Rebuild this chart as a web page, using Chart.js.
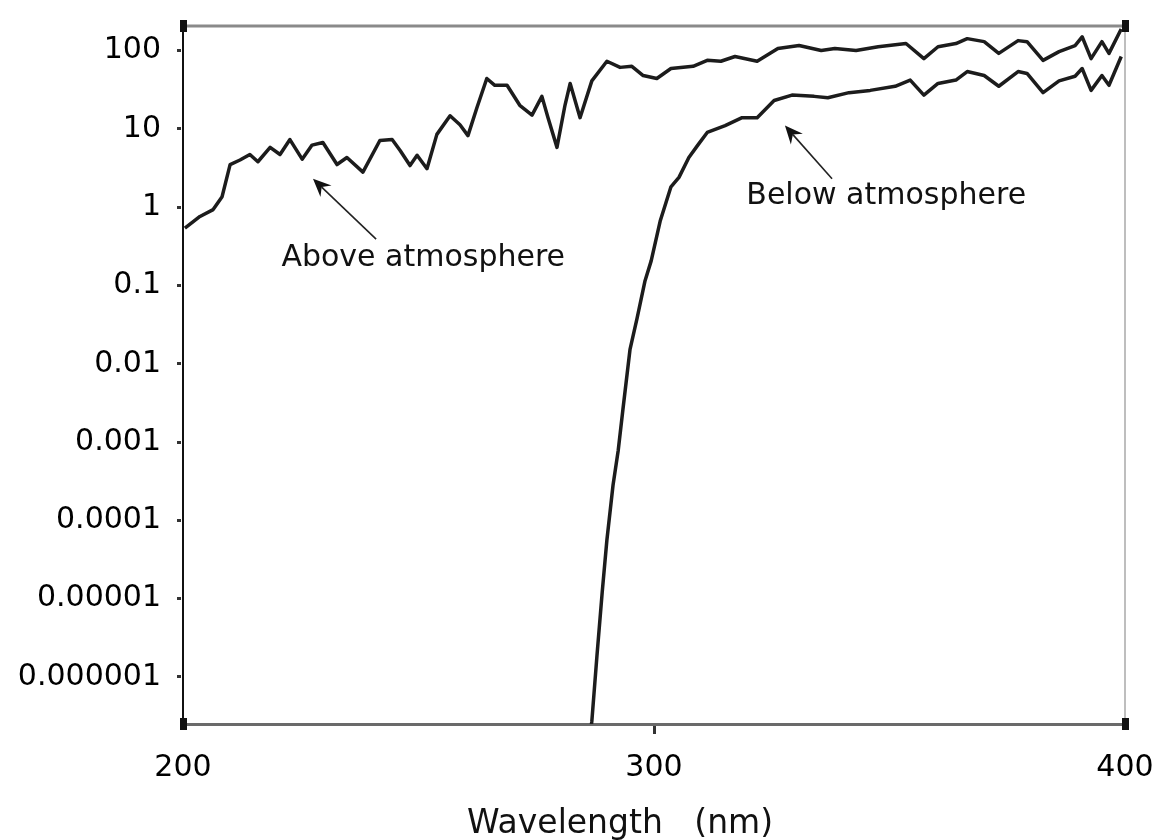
<!DOCTYPE html>
<html>
<head>
<meta charset="utf-8">
<script src="https://cdn.jsdelivr.net/npm/chart.js@4"></script>
<style>
  html, body { margin: 0; padding: 0; background: #fff; }
  #wrap { width: 1161px; height: 840px; }
</style>
</head>
<body>
<div id="wrap"><canvas id="chart"></canvas></div>
<script>
// Espectro solar UV: arriba y abajo de la atmósfera
const aboveWl = [200.4, 203.6, 206.4, 208.3, 210, 212.1, 214.2, 215.9, 218.5, 220.6, 222.7, 225.3, 227.4, 229.7, 232.7, 234.8, 238.2, 241.8, 244.4, 246.1, 248.2, 249.7, 251.8, 253.9, 256.7, 258.8, 260.5, 262.4, 264.5, 266.2, 268.8, 271.5, 274.1, 276.2, 277.5, 279.4, 281.1, 282.2, 284.3, 286.8, 290, 292.8, 295.3, 297.7, 300.6, 303.6, 308.3, 311.3, 314.2, 317.2, 321.9, 326.3, 330.8, 335.5, 338.4, 342.9, 347.6, 353.5, 357.3, 360.3, 364.1, 366.5, 370.1, 373.2, 377.3, 379.2, 382.6, 386, 389.4, 390.9, 392.8, 395.1, 396.6, 399.2];
const aboveVal = [0.54, 0.76, 0.93, 1.36, 3.5, 4.0, 4.7, 3.8, 5.8, 4.7, 7.3, 4.1, 6.2, 6.7, 3.5, 4.3, 2.8, 7.1, 7.3, 5.3, 3.4, 4.6, 3.1, 8.5, 14.7, 11.3, 8.2, 18.6, 44, 36, 36, 20, 15, 26, 13.9, 5.8, 20, 38, 13.9, 41, 73, 61, 63, 48, 44, 59, 63, 75, 73, 84, 73, 106, 116, 100, 106, 100, 112, 123, 79, 112, 123, 142, 130, 92, 134, 130, 75, 97, 116, 150, 79, 130, 92, 189];

const belowWl = [286.4, 286.8, 287.9, 289, 290, 291.3, 292.4, 293.4, 294.9, 296.4, 298.1, 299.4, 301.3, 303.6, 305.3, 307.4, 309.3, 311.3, 315.1, 318.7, 321.9, 325.5, 329.3, 334, 336.9, 341.4, 345.9, 351.2, 354.4, 357.3, 360.3, 364.1, 366.5, 370.1, 373.2, 377.3, 379.2, 382.6, 386, 389.4, 390.9, 392.8, 395.1, 396.6, 399.2];
const belowVal = [1.8e-7, 2.7e-7, 1.9e-6, 1.2e-5, 5.6e-5, 2.8e-4, 7.8e-4, 2.6e-3, 0.0151, 0.038, 0.115, 0.206, 0.66, 1.82, 2.4, 4.3, 6.2, 9.0, 11, 13.9, 13.9, 23, 27, 26, 25, 29, 31, 35, 42, 27, 38, 42, 54, 48, 35, 54, 51, 29, 41, 47, 59, 31, 48, 36, 84];

const yTicks = [0.000001, 0.00001, 0.0001, 0.001, 0.01, 0.1, 1, 10, 100];
const xTicks = [200, 300, 400];

// Etiquetas con flecha (en coordenadas de datos)
const noteText = ["Above atmosphere", "Below atmosphere"];
const noteAt = [[251, 0.225], [349.3, 1.36]];
const arrowFrom = [[241, 0.39], [337.8, 2.3]];
const arrowTo = [[227.6, 2.3], [327.8, 11]];

const FONT = "'DejaVu Sans', sans-serif";

const toPoints = (xs, ys) => xs.map((x, i) => ({ x: x, y: ys[i] }));

const framePlugin = {
    id: "frame",
    afterDraw(chart) {
        const { ctx, chartArea: a, scales } = chart;
        const sx = scales.x, sy = scales.y;
        ctx.save();

        // borde superior y derecho
        ctx.strokeStyle = "#8a8a8a";
        ctx.lineWidth = 3;
        ctx.beginPath();
        ctx.moveTo(a.left, a.top);
        ctx.lineTo(a.right, a.top);
        ctx.stroke();
        ctx.strokeStyle = "#a8a8a8";
        ctx.lineWidth = 1.5;
        ctx.beginPath();
        ctx.moveTo(a.right, a.top);
        ctx.lineTo(a.right, a.bottom);
        ctx.stroke();

        // marcas en las esquinas
        ctx.fillStyle = "#111";
        [[a.left, a.top], [a.left, a.bottom], [a.right, a.bottom], [a.right, a.top]].forEach(([cx, cy]) => {
            ctx.fillRect(cx - 3, cy - 6, 7, 12);
        });

        // textos y flechas
        ctx.fillStyle = "#111";
        ctx.font = "30px " + FONT;
        ctx.textAlign = "center";
        ctx.textBaseline = "middle";
        noteText.forEach((t, i) => {
            ctx.fillText(t, sx.getPixelForValue(noteAt[i][0]), sy.getPixelForValue(noteAt[i][1]));

            const x0 = sx.getPixelForValue(arrowFrom[i][0]), y0 = sy.getPixelForValue(arrowFrom[i][1]);
            const x1 = sx.getPixelForValue(arrowTo[i][0]), y1 = sy.getPixelForValue(arrowTo[i][1]);
            const ang = Math.atan2(y1 - y0, x1 - x0);
            const c = Math.cos(ang), s = Math.sin(ang);
            const len = 18, wid = 8, notch = 12;
            ctx.strokeStyle = "#222";
            ctx.lineWidth = 1.6;
            ctx.beginPath();
            ctx.moveTo(x0, y0);
            ctx.lineTo(x1 - c * notch, y1 - s * notch);
            ctx.stroke();
            ctx.beginPath();
            ctx.moveTo(x1, y1);
            ctx.lineTo(x1 - c * len - s * wid, y1 - s * len + c * wid);
            ctx.lineTo(x1 - c * notch, y1 - s * notch);
            ctx.lineTo(x1 - c * len + s * wid, y1 - s * len - c * wid);
            ctx.closePath();
            ctx.fill();
        });

        // título del eje x
        ctx.font = "33px " + FONT;
        ctx.textBaseline = "alphabetic";
        ctx.fillText("Wavelength   (nm)", sx.getPixelForValue(292.8), 833);
        ctx.restore();
    }
};

new Chart(document.getElementById("chart"), {
    type: "line",
    data: {
        datasets: [{
            label: "Above atmosphere",
            data: toPoints(aboveWl, aboveVal),
            borderColor: "#1c1c1c",
            borderWidth: 3.5,
            pointRadius: 0,
            tension: 0,
            borderJoinStyle: "round"
        }, {
            label: "Below atmosphere",
            data: toPoints(belowWl, belowVal),
            borderColor: "#1c1c1c",
            borderWidth: 3.5,
            pointRadius: 0,
            tension: 0,
            borderJoinStyle: "round"
        }]
    },
    options: {
        responsive: true,
        maintainAspectRatio: false,
        animation: false,
        layout: { padding: { left: 0, right: 36, top: 17, bottom: 0 } },
        plugins: {
            legend: { display: false },
            tooltip: { enabled: false }
        },
        scales: {
            x: {
                type: "linear",
                min: 200,
                max: 400,
                afterFit: (scale) => {
                    scale.height = 116;
                    scale.paddingLeft = 0;
                    scale.paddingRight = 0;
                },
                afterBuildTicks: (scale) => { scale.ticks = xTicks.map((v) => ({ value: v })); },
                border: { color: "#6a6a6a", width: 3 },
                grid: {
                    drawOnChartArea: false,
                    tickLength: 10,
                    tickWidth: 3,
                    tickColor: (ctx) => (ctx.tick && ctx.tick.value === 300 ? "#333" : "rgba(0,0,0,0)")
                },
                ticks: {
                    color: "#000",
                    padding: 16,
                    maxRotation: 0,
                    font: { family: FONT, size: 30 },
                    callback: (v) => String(v)
                }
            },
            y: {
                type: "logarithmic",
                min: 2.5e-7,
                max: 206,
                afterFit: (scale) => { scale.width = 183; },
                afterBuildTicks: (scale) => { scale.ticks = yTicks.map((v) => ({ value: v })); },
                border: { color: "#111", width: 2 },
                grid: {
                    drawOnChartArea: false,
                    tickLength: 14,
                    tickWidth: 3,
                    tickColor: "#333",
                    tickBorderDash: [0, 8, 4, 100]
                },
                ticks: {
                    color: "#000",
                    padding: 8,
                    font: { family: FONT, size: 30 },
                    callback: (v) => String(v)
                }
            }
        }
    },
    plugins: [framePlugin]
});
</script>
</body>
</html>
